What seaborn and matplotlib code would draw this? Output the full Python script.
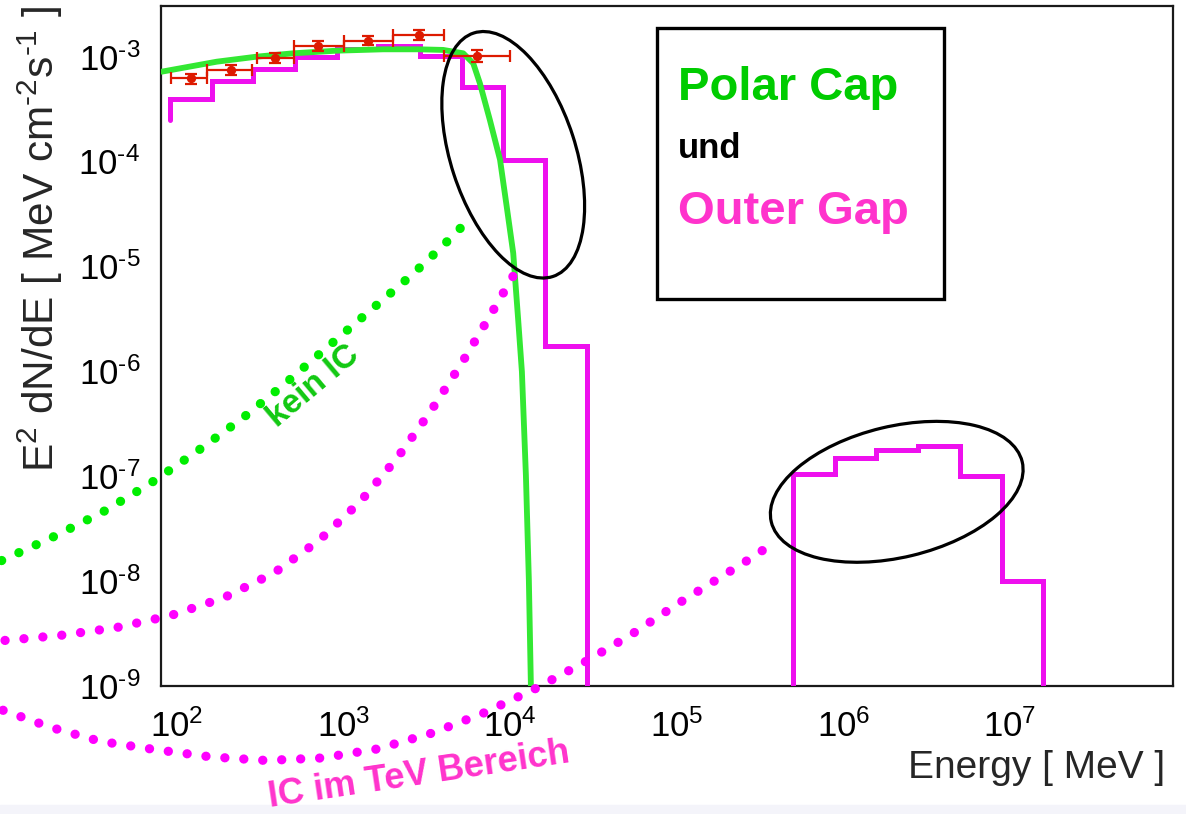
import numpy as np
import matplotlib
matplotlib.use("Agg")
import matplotlib.pyplot as plt
import seaborn as sns
from matplotlib.patches import Ellipse, Rectangle
from matplotlib.transforms import ScaledTranslation
from matplotlib.ticker import LogLocator, FuncFormatter, NullFormatter

# ---------------- data ----------------
# Polar Cap model (green curve)
pc_E = [81.3, 173.8, 302, 501, 912, 1734, 2812, 3972, 5236, 6012, 6592, 7568,
        8710, 9550, 10450, 11190, 11780, 12450, 12970, 13340, 13600]
pc_F = [7.19e-4, 8.95e-4, 1.0e-3, 1.076e-3, 1.14e-3, 1.175e-3, 1.175e-3, 1.159e-3,
        1.076e-3, 8.65e-4, 5.58e-4, 2.49e-4, 1.04e-4, 3.72e-5, 1.34e-5, 3.10e-6,
        9.93e-7, 1.02e-7, 1.02e-8, 1.0e-9, 1.0e-10]

# Outer Gap model (magenta histogram), low-energy part
og_lo_edges = [91.2, 162, 288, 513, 912, 1622, 2884, 5129, 9120, 16218, 28840]
og_lo_vals = [3.95e-4, 5.8e-4, 7.6e-4, 9.9e-4, 1.18e-3, 1.25e-3, 1.02e-3,
              5.1e-4, 1.04e-4, 1.75e-6]
og_lo_start = 2.5e-4
# Outer Gap model, TeV part
og_hi_edges = [5.0e5, 8.9e5, 1.58e6, 2.8e6, 5.0e6, 8.9e6, 1.58e7]
og_hi_vals = [1.04e-7, 1.5e-7, 1.77e-7, 1.93e-7, 1.0e-7, 1.0e-8]
og_floor = 1e-11

# measured points (red)
pt_E = [122, 212, 387, 707, 1414, 2828, 6325]
pt_Elo = [92, 153, 303, 505, 1010, 1990, 4015]
pt_Ehi = [153, 282, 505, 1010, 1990, 4015, 10000]
pt_F = [6.2e-4, 7.5e-4, 9.7e-4, 1.26e-3, 1.42e-3, 1.61e-3, 1.02e-3]
pt_Flo = [5.5e-4, 6.7e-4, 8.7e-4, 1.13e-3, 1.28e-3, 1.45e-3, 0.89e-3]
pt_Fhi = [6.9e-4, 8.4e-4, 1.08e-3, 1.40e-3, 1.58e-3, 1.79e-3, 1.16e-3]

# hand-drawn dotted annotation curves
kein_E = [8.9, 17.9, 35.6, 69.2, 132, 247, 447, 809, 1445, 2582, 3802, 5508]
kein_F = [1.57e-8, 2.61e-8, 4.51e-8, 8.51e-8, 1.72e-7, 3.55e-7, 7.64e-7, 1.72e-6,
          3.78e-6, 8.34e-6, 1.48e-5, 2.67e-5]
ic1_E = [9.33, 20.1, 43.3, 92.5, 192, 385, 716, 1259, 2089, 3304, 5070, 7464, 10990]
ic1_F = [2.72e-9, 3.04e-9, 3.60e-9, 4.71e-9, 6.95e-9, 1.20e-8, 2.45e-8, 5.70e-8,
         1.47e-7, 4.05e-7, 1.16e-6, 3.24e-6, 9.31e-6]
ic2_E = [9.08, 17.4, 34.7, 72.4, 160, 344, 741, 1596, 3388, 6902, 13960, 27480,
         53330, 100200, 181600, 315500, 374100]
ic2_F = [5.87e-10, 4.05e-10, 2.97e-10, 2.49e-10, 2.11e-10, 1.95e-10, 2.06e-10,
         2.51e-10, 3.55e-10, 5.50e-10, 9.31e-10, 1.66e-9, 3.09e-9, 6.0e-9, 1.08e-8,
         1.87e-8, 2.35e-8]

x_ticks = [1e2, 1e3, 1e4, 1e5, 1e6, 1e7]
y_ticks = [1e-9, 1e-8, 1e-7, 1e-6, 1e-5, 1e-4, 1e-3]

# ---------------- style ----------------
sns.set_theme(style="white")
plt.rcParams["font.family"] = ["Liberation Sans", "DejaVu Sans"]
plt.rcParams["axes.unicode_minus"] = False
plt.rcParams["mathtext.fontset"] = "custom"
plt.rcParams["mathtext.rm"] = "Liberation Sans"
plt.rcParams["mathtext.it"] = "Liberation Sans:italic"
plt.rcParams["mathtext.bf"] = "Liberation Sans:bold"

GREEN_LINE = "#33e833"
GREEN_DOT = "#00ee00"
GREEN_TXT = "#11c811"
MAGENTA = "#ee10ee"
PINK_TXT = "#ff33cc"
RED = "#dd1a00"
HY = "\u2010"  # short hyphen used as minus sign in exponents

W, H = 1186, 814
fig = plt.figure(figsize=(W / 100, H / 100), dpi=100)
fig.patch.set_facecolor("white")
ax = fig.add_axes([161 / W, 1 - 686 / H, (1173 - 161) / W, 680 / H])
ax.set_xscale("log")
ax.set_yscale("log")
ax.set_xlim(80.5, 9.5e7)
ax.set_ylim(1e-9, 3.04e-3)

# bottom light band
fig.patches.append(Rectangle((0, 0), 1, 9 / H, transform=fig.transFigure,
                             color="#f4f4fa", zorder=-5))

# ---------------- Outer Gap histogram ----------------
lo_x = np.repeat(og_lo_edges, 2)
lo_y = np.concatenate([[og_lo_start], np.repeat(og_lo_vals, 2), [og_floor]])
hi_x = np.repeat(og_hi_edges, 2)
hi_y = np.concatenate([[og_floor], np.repeat(og_hi_vals, 2), [og_floor]])
for xs, ys in ((lo_x, lo_y), (hi_x, hi_y)):
    sns.lineplot(x=xs, y=ys, ax=ax, sort=False, estimator=None, color=MAGENTA,
                 lw=3.6, solid_joinstyle="miter", zorder=3)

# ---------------- Polar Cap curve ----------------
sns.lineplot(x=pc_E, y=pc_F, ax=ax, sort=False, estimator=None, color=GREEN_LINE,
             lw=4.2, zorder=4)

# ---------------- data points ----------------
pt_E_a = np.array(pt_E)
pt_F_a = np.array(pt_F)
xerr = [pt_E_a - np.array(pt_Elo), np.array(pt_Ehi) - pt_E_a]
yerr = [pt_F_a - np.array(pt_Flo), np.array(pt_Fhi) - pt_F_a]
ax.errorbar(pt_E, pt_F, xerr=xerr, yerr=yerr, fmt="none", ecolor=RED,
            elinewidth=1.6, capsize=4, capthick=1.6, zorder=5)
sns.scatterplot(x=pt_E, y=pt_F, ax=ax, color=RED, s=45, edgecolor=RED,
                linewidth=0, zorder=6)

# ---------------- dotted annotation curves ----------------
dot_style = dict(lw=6.7, linestyle=(0, (0.01, 2.03)), dash_capstyle="round",
                 clip_on=False, sort=False, estimator=None, zorder=7)
sns.lineplot(x=kein_E, y=kein_F, ax=ax, color=GREEN_DOT, **dot_style)
sns.lineplot(x=ic1_E, y=ic1_F, ax=ax, color="#ff00ff", **dot_style)
sns.lineplot(x=ic2_E, y=ic2_F, ax=ax, color="#ff00ff", **dot_style)

# ---------------- ellipses ----------------
ell_specs = [
    # centre (E, F), width px, height px, angle deg
    ((1.045e4, 1.16e-4), 256, 125, 108),
    ((2.09e6, 7.1e-8), 258, 131, 13.5),
]
for (ex, ey), w, h, ang in ell_specs:
    tr = fig.dpi_scale_trans + ScaledTranslation(ex, ey, ax.transData)
    e = Ellipse((0, 0), w / 100, h / 100, angle=ang, transform=tr, fill=False,
                ec="black", lw=2.3, zorder=8, clip_on=False)
    fig.add_artist(e)

# ---------------- legend box ----------------
ax.add_patch(Rectangle((0.4898, 0.569), 0.774 - 0.4898, 0.968 - 0.569,
                       transform=ax.transAxes, fill=False, ec="black", lw=2.4,
                       zorder=9))
ax.text(0.511, 0.862, "Polar Cap", transform=ax.transAxes, color="#00cc00",
        fontsize=34, fontweight="bold", va="baseline", ha="left", zorder=9)
ax.text(0.511, 0.776, "und", transform=ax.transAxes, color="black",
        fontsize=25, fontweight="bold", va="baseline", ha="left", zorder=9)
ax.text(0.511, 0.679, "Outer Gap", transform=ax.transAxes, color=PINK_TXT,
        fontsize=34, fontweight="bold", va="baseline", ha="left", zorder=9)

# ---------------- free annotation texts ----------------
fig.text(313 / W, 1 - 386 / H, "kein IC", color=GREEN_TXT, fontsize=24,
         fontweight="bold", rotation=40, rotation_mode="anchor",
         ha="center", va="center", zorder=10)
fig.text(419 / W, 1 - 775 / H, "IC im TeV Bereich", color=PINK_TXT, fontsize=26,
         fontweight="bold", rotation=8.5, rotation_mode="anchor",
         ha="center", va="center", zorder=10)


# ---------------- axes cosmetics ----------------
def pow10(v, pos):
    e = int(round(np.log10(v)))
    s = str(abs(e))
    if e < 0:
        s = HY + s
    return r"$\mathdefault{10^{%s}}$" % s


ax.xaxis.set_minor_locator(LogLocator(base=10, subs=np.arange(2, 10), numticks=40))
ax.yaxis.set_minor_locator(LogLocator(base=10, subs=np.arange(2, 10), numticks=40))
ax.set_xticks(x_ticks)
ax.set_yticks(y_ticks)
ax.xaxis.set_major_formatter(FuncFormatter(pow10))
ax.yaxis.set_major_formatter(FuncFormatter(pow10))
ax.xaxis.set_minor_formatter(NullFormatter())
ax.yaxis.set_minor_formatter(NullFormatter())
ax.tick_params(which="both", direction="in", top=False, right=False,
               colors="black", labelsize=25)
ax.tick_params(which="major", length=8, width=1.2)
ax.tick_params(which="minor", length=4.5, width=1.0)
ax.tick_params(axis="x", which="major", pad=17)
ax.tick_params(axis="y", which="major", pad=15)
for sp in ax.spines.values():
    sp.set_color("#1a1a1a")
    sp.set_linewidth(1.6)
ax.grid(False)

ax.set_xlabel("Energy [ MeV ]", fontsize=28, loc="right")
ax.xaxis.set_label_coords(0.992, -0.094)
ax.set_ylabel(r"E$^{2}$ dN/dE [ MeV cm$^{%s2}$s$^{%s1}$ ]" % (HY, HY),
              fontsize=30.5, loc="top")
ax.yaxis.set_label_coords(-0.095, 1.0)

fig.savefig("out.png", dpi=100)
